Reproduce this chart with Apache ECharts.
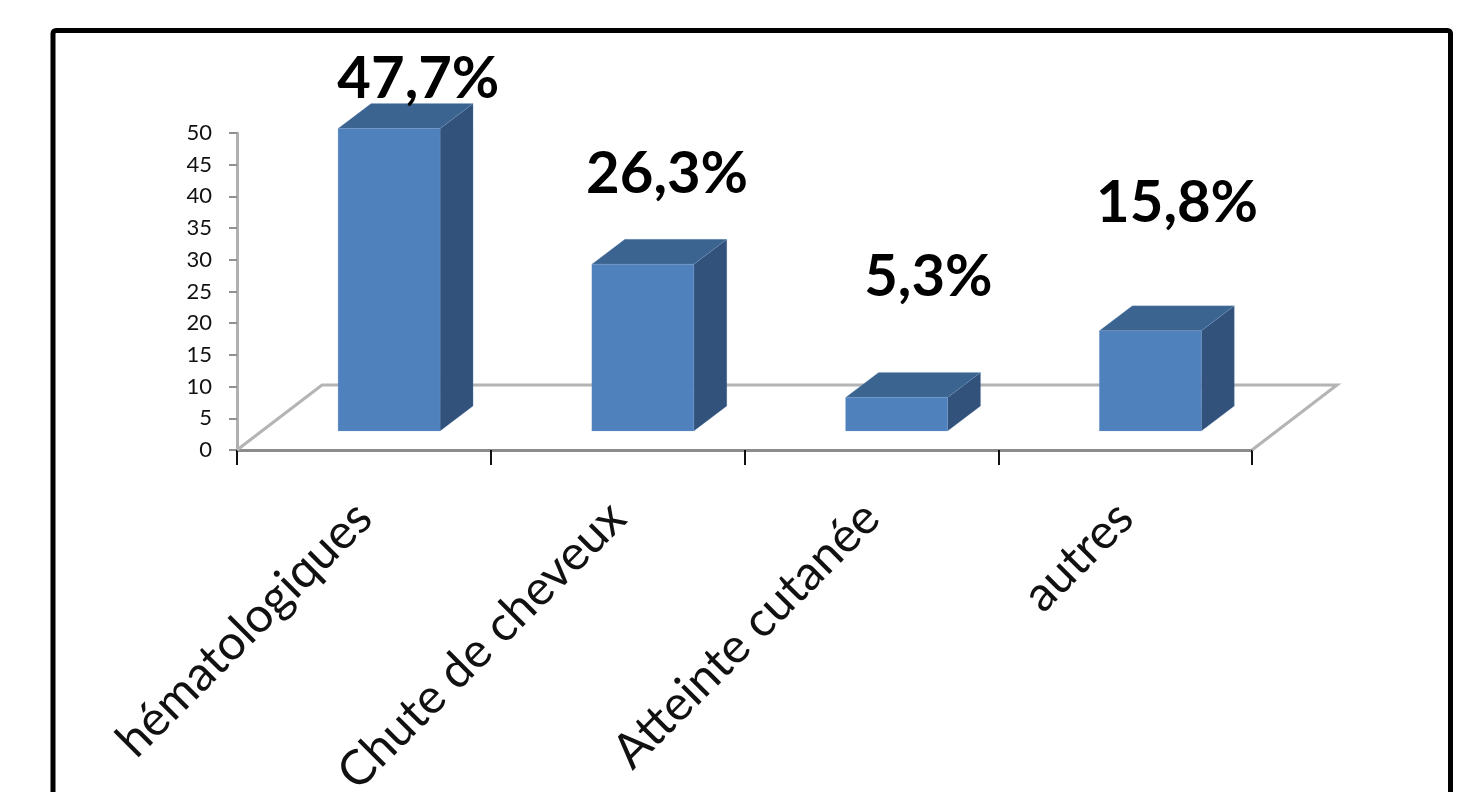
<!DOCTYPE html>
<html><head><meta charset="utf-8">
<style>html,body{margin:0;padding:0;background:#fff;overflow:hidden}#c{width:1469px;height:792px}</style>
<script src="https://cdn.jsdelivr.net/npm/echarts@6/dist/echarts.min.js"></script>
</head><body><div id="c"></div>
<script>
const categories = ['hématologiques', 'Chute de cheveux', 'Atteinte cutanée', 'autres'];
const values = [47.7, 26.3, 5.3, 15.8];
const valueLabels = ['47,7%', '26,3%', '5,3%', '15,8%'];
// layout constants (pixels)
const labelShift = [[54.5, -68], [49.5, -109], [57, -139], [52, -147]];
const floorDepth = [85, -65];
const barShift = [25.2, -19];
const barDepth = [33, -25];
const barRatio = 0.402;

const chart = echarts.init(document.getElementById('c'), null, {renderer: 'canvas'});
const soft = 'rgba(120,160,210,0.2)';

function renderFloor(params, api) {
  const cs = params.coordSys;
  const x0 = cs.x, x1 = cs.x + cs.width, y = cs.y + cs.height;
  const bx = floorDepth[0], by = floorDepth[1];
  return {
    type: 'polyline', silent: true,
    shape: {points: [[x0, y], [x0 + bx, y + by], [x1 + bx, y + by], [x1, y]]},
    style: {fill: null, stroke: '#b4b4b4', lineWidth: 3}
  };
}
function renderBar(params, api) {
  const i = api.value(0), v = api.value(1);
  const top = api.coord([i, v]), base = api.coord([i, 0]);
  const w = api.size([1, 0])[0] * barRatio;
  const l = top[0] + barShift[0] - w / 2, r = l + w;
  const t = top[1] + barShift[1], b = base[1] + barShift[1];
  const dx = barDepth[0], dy = barDepth[1];
  const poly = (pts, fill) => ({type: 'polygon', silent: true, shape: {points: pts},
    style: {fill, stroke: soft, lineWidth: 1}});
  return {type: 'group', children: [
    poly([[r, t], [r + dx, t + dy], [r + dx, b + dy], [r, b]], '#32527b'),
    poly([[l, t], [l + dx, t + dy], [r + dx, t + dy], [r, t]], '#3c6491'),
    poly([[l, t], [r, t], [r, b], [l, b]], '#4f81bd'),
    {type: 'text', silent: true, style: {
      x: top[0] + labelShift[i][0], y: top[1] + labelShift[i][1],
      text: valueLabels[i], fill: '#000', align: 'center', verticalAlign: 'middle',
      font: 'bold 58px Lato, "Open Sans", sans-serif'}}
  ]};
}

chart.setOption({
  animation: false,
  backgroundColor: '#fff',
  grid: {left: 237, right: 217, top: 133, bottom: 342, containLabel: false, outerBoundsMode: 'none'},
  xAxis: {
    type: 'category', data: categories, boundaryGap: true,
    axisLine: {show: true, lineStyle: {color: '#8c8c8c', width: 3}},
    axisTick: {show: true, alignWithLabel: false, length: 15, lineStyle: {color: '#111', width: 2}},
    splitLine: {show: false},
    axisLabel: {interval: 0, rotate: 45, margin: 60, fontSize: 48.5, color: '#111', fontFamily: 'Lato, sans-serif'}
  },
  yAxis: {
    type: 'value', min: 0, max: 50, interval: 5,
    axisLine: {show: true, lineStyle: {color: '#b0b0b0', width: 3}},
    axisTick: {show: true, length: 8, lineStyle: {color: '#909090', width: 2}},
    splitLine: {show: false},
    axisLabel: {margin: 25, fontSize: 22, color: '#111', fontFamily: 'Lato, sans-serif', padding: [2, 0, 0, 0]}
  },
  graphic: [{type: 'rect', z: -1, silent: true, shape: {x: 53, y: 30.5, width: 1397.5, height: 820, r: 3},
    style: {fill: null, stroke: '#000', lineWidth: 5}}],
  series: [
    {type: 'custom', z: 1, clip: false, renderItem: renderFloor, data: [0], encode: {x: 0, y: 0}, silent: true},
    {type: 'custom', z: 3, clip: false, renderItem: renderBar,
      data: values.map((v, i) => [i, v]), encode: {x: 0, y: 1}, silent: true}
  ]
});
</script></body></html>
